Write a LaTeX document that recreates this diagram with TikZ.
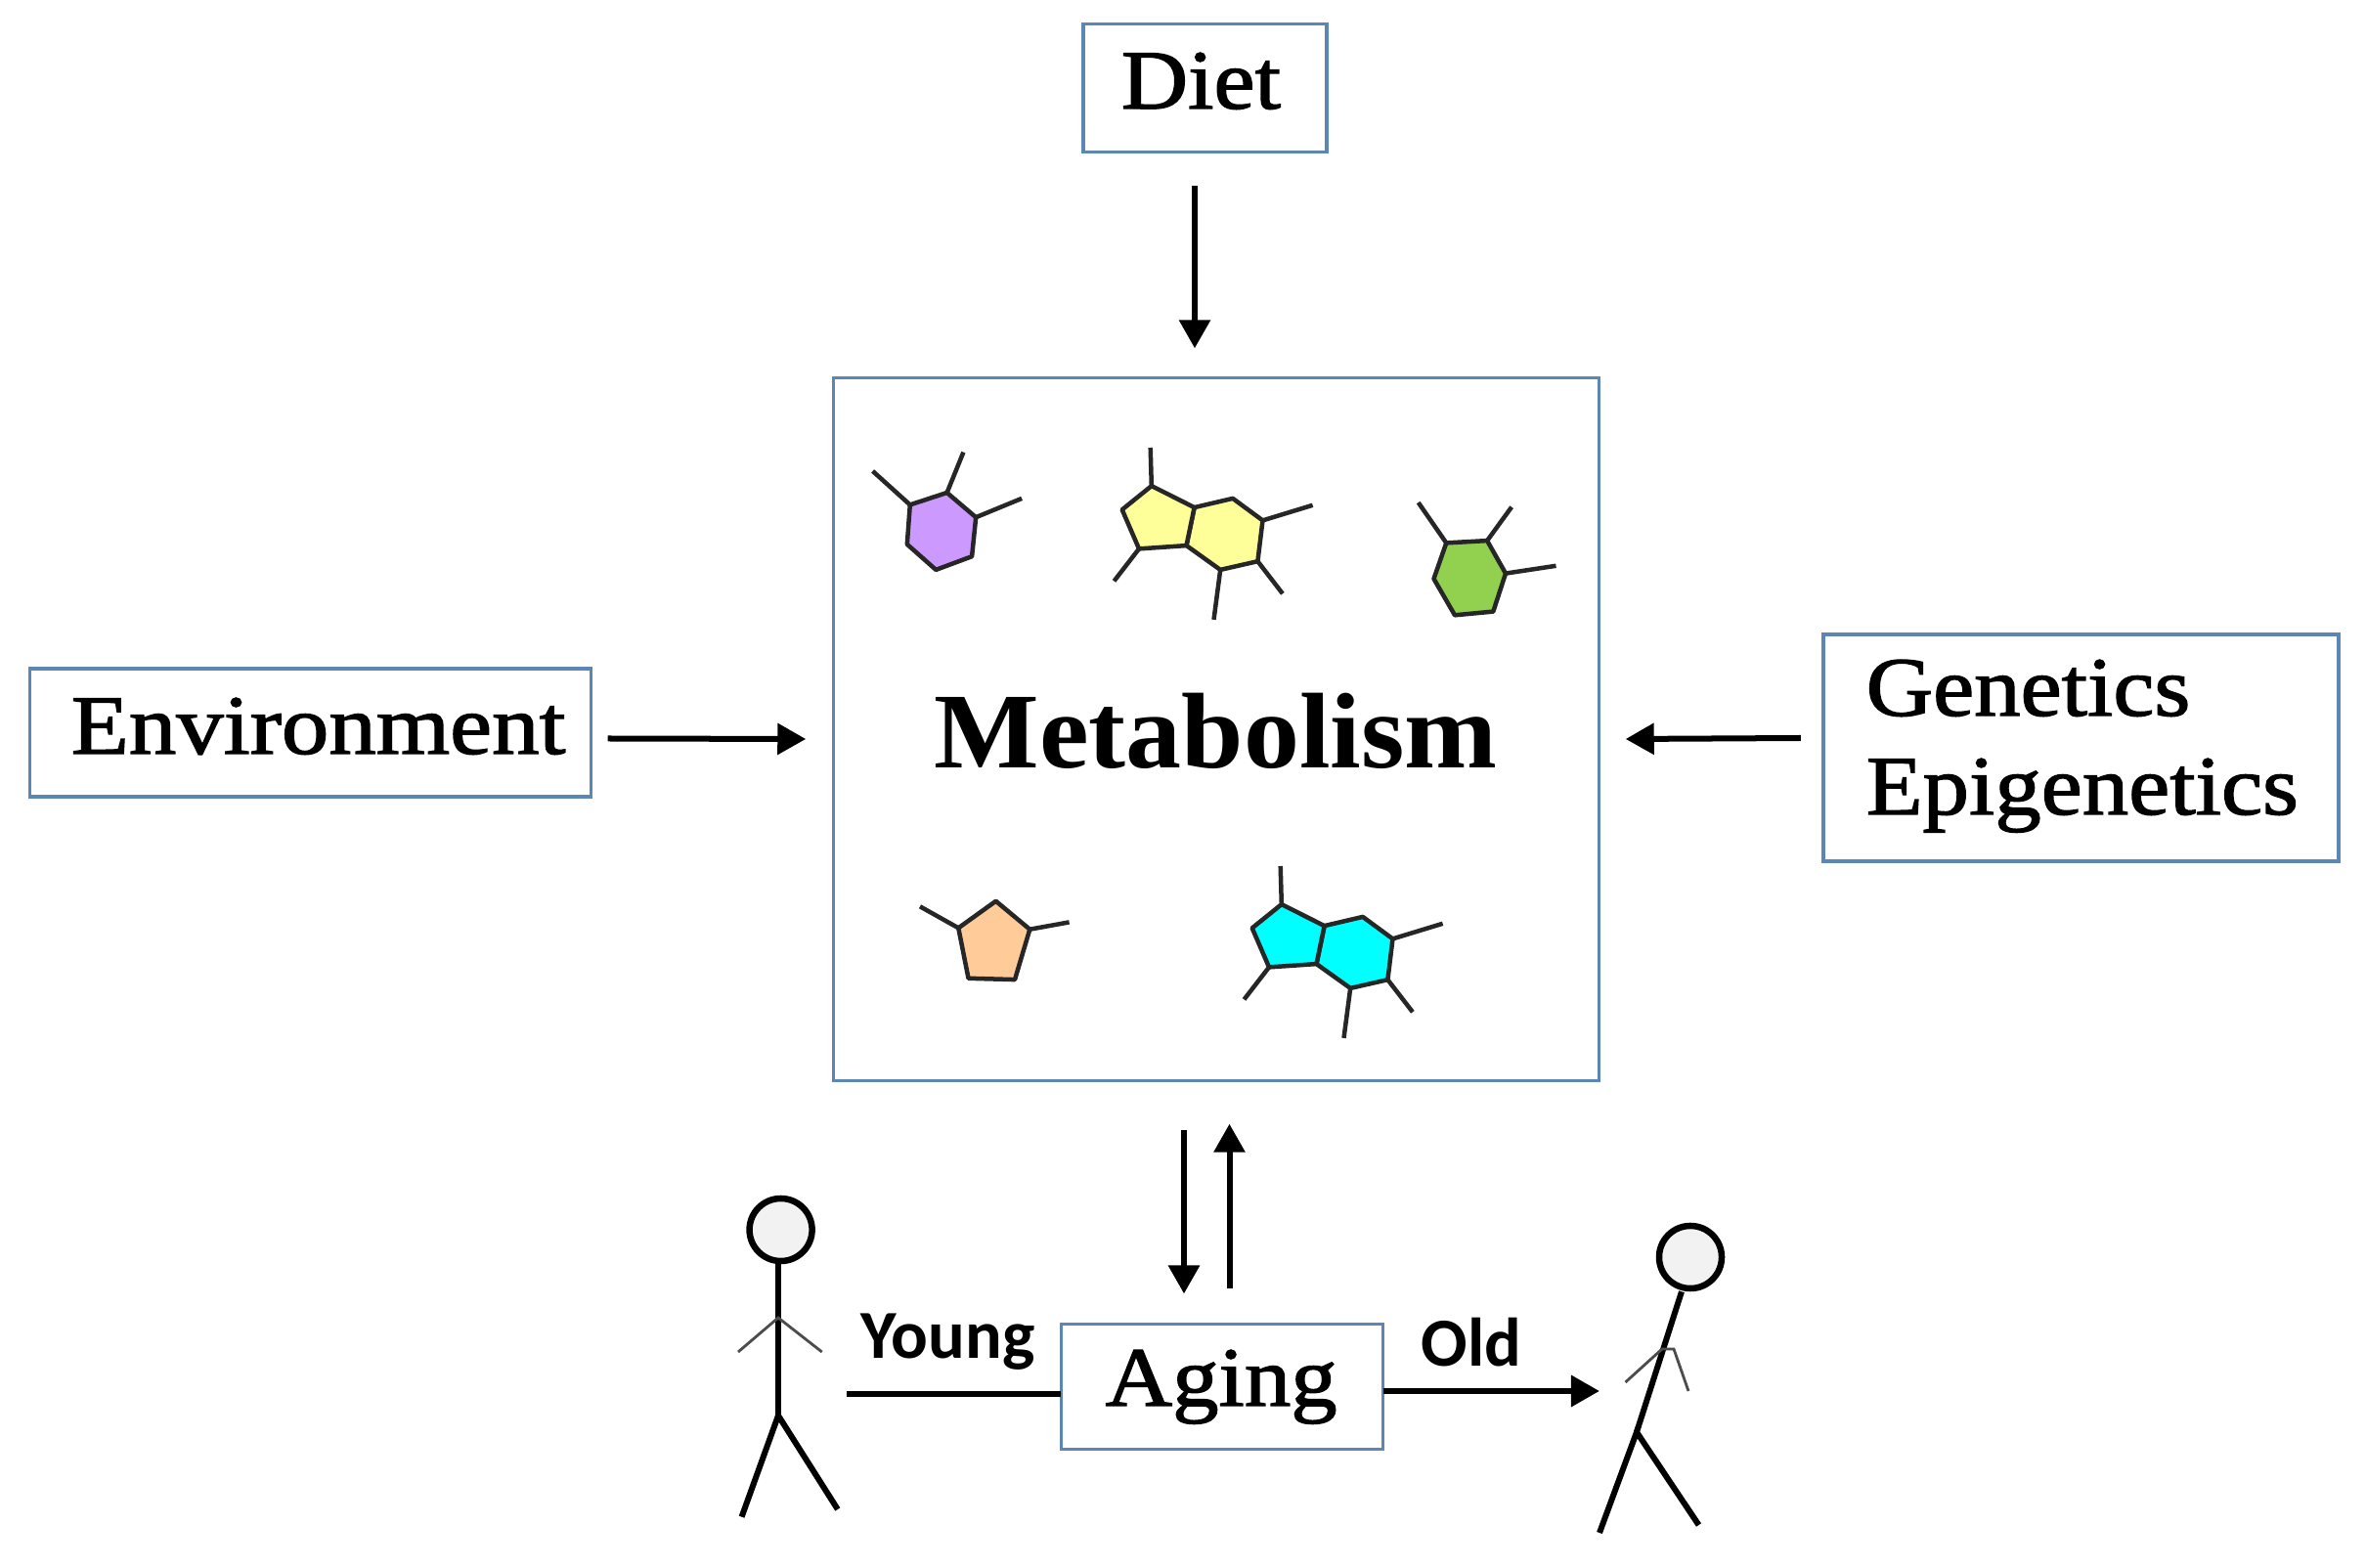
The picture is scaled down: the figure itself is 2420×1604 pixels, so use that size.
\documentclass[tikz,border=0pt]{standalone}
\usepackage{fontspec}
\usetikzlibrary{arrows.meta,shapes.geometric}
\newfontfamily\boxfont[FakeStretch=1.10,FakeBold=1.6]{Liberation Serif}
\newfontfamily\metafont[FakeStretch=1.035]{Liberation Serif}
\newfontfamily\labfont{Carlito}
\definecolor{boxline}{HTML}{5B86B5}
\definecolor{molP}{HTML}{CC99FF}
\definecolor{molY}{HTML}{FFFF99}
\definecolor{molG}{HTML}{92D050}
\definecolor{molO}{HTML}{FFCC99}
\definecolor{molC}{HTML}{00FFFF}
\definecolor{headfill}{HTML}{F2F2F2}
\tikzset{
  boxn/.style={draw=boxline,line width=0.035cm,fill=white,inner sep=0pt,outer sep=0pt},
  boxtext/.style={inner sep=0pt,anchor=base west,font=\boxfont\fontsize{24.5}{28}\selectfont},
  metatext/.style={inner sep=0pt,anchor=base west,font=\metafont\bfseries\fontsize{31.3}{36}\selectfont},
  labtext/.style={inner sep=0pt,anchor=base west,font=\labfont\bfseries\fontsize{20}{22}\selectfont},
  arr/.style={line width=0.06cm,-{Triangle[length=0.29cm,width=0.31cm]}},
  mol/.style={draw=black!85,line width=0.045cm,line join=round},
  sub/.style={draw=black!85,line width=0.045cm},
  head/.style={draw=black,line width=0.065cm,fill=headfill,shape=ellipse,inner sep=0pt},
  limb/.style={draw=black,line width=0.06cm},
  arm/.style={draw=black!70,line width=0.028cm},
  pics/bicyc/.style={code={
    \draw[mol,fill=#1] (1221.6,519.1)--(1260.9,509.9)--(1291.5,532.4)--(1286.4,574.2)--(1248.2,582.9)--(1213.5,558.1)--cycle;
    \draw[mol,fill=#1] (1177.8,497.1)--(1221.6,519.1)--(1213.5,558.1)--(1165,561.4)--(1147.7,521.4)--cycle;
    \draw[sub] (1177.8,497.1)--(1176.7,458);
    \draw[sub] (1291.5,532.4)--(1342.6,516.8);
    \draw[sub] (1286.4,574.2)--(1311.9,607.3);
    \draw[sub] (1248.2,582.9)--(1241.5,633.9);
    \draw[sub] (1165,561.4)--(1139.5,594.4);
  }}
}
\begin{document}
\begin{tikzpicture}[x=0.01cm,y=-0.01cm]
\useasboundingbox (0,0) rectangle (2420,1604);
\fill[white] (0,0) rectangle (2420,1604);

% boxes
\node[boxn,minimum width=2.49cm,minimum height=1.31cm] (diet) at (1232.5,90) {};
\node[boxn,minimum width=7.83cm,minimum height=7.19cm] (metab) at (1244,746) {};
\node[boxn,minimum width=5.74cm,minimum height=1.31cm] (env) at (317.5,749.5) {};
\node[boxn,minimum width=5.27cm,minimum height=2.32cm] (gen) at (2128.5,765) {};
\node[boxn,minimum width=3.29cm,minimum height=1.28cm] (aging) at (1250,1418.5) {};

% box texts
\node[boxtext] (dietT) at (1146,111) {Diet};
\node[boxtext] (envT) at (72,771) {\scalebox{1.022}[1]{Environment}};
\node[boxtext] (genT) at (1908,732) {Genetics};
\node[boxtext] (epiT) at (1908,833) {Epigenetics};
\node[boxtext] (agingT) at (1130,1438) {Aging};
\node[metatext] (metaT) at (955,786) {Metabolism};
\node[labtext] (young) at (880,1390) {Young};
\node[labtext] (old) at (1453,1398) {Old};

% arrows
\draw[arr] ([shift={(-10.5,34)}]diet.south) -- ([shift={(-22,-30)}]metab.north);
\draw[arr] ([shift={(17,6)}]env.east) -- ([shift={(-28,10)}]metab.west);
\draw[arr] ([shift={(-23,-10)}]gen.west) -- ([shift={(27,10)}]metab.east);
\draw[arr] ([shift={(-33,50)}]metab.south) -- ([shift={(-39,-31)}]aging.north);
\draw[arr] ([shift={(7.5,-36)}]aging.north) -- ([shift={(13.5,44)}]metab.south);

% molecules
\draw[mol,fill=molP] (930.8,516.4)--(968.6,504)--(998.2,529.2)--(994.1,569.2)--(957.3,582.9)--(927.8,556.8)--cycle;
\draw[sub] (930.8,516.4)--(892.6,481.9);
\draw[sub] (968.6,504)--(985.4,462.6);
\draw[sub] (998.2,529.2)--(1045.1,509.9);

\pic at (0,0) {bicyc=molY};
\pic at (133,428) {bicyc=molC};

\draw[mol,fill=molG] (1479.3,555.4)--(1521.1,553.1)--(1540,586.6)--(1527.3,625.6)--(1488,629.3)--(1466.5,592.1)--cycle;
\draw[sub] (1479.3,555.4)--(1450.7,514.1);
\draw[sub] (1521.1,553.1)--(1546.1,518.7);
\draw[sub] (1540,586.6)--(1591.5,578.8);

\draw[mol,fill=molO] (1018.6,921.8)--(1053.3,950.7)--(1038,1002.1)--(990.5,1000.8)--(980.3,949.3)--cycle;
\draw[sub] (980.3,949.3)--(941,927.3);
\draw[sub] (1053.3,950.7)--(1093.6,943.4);

% young person
\node[head,minimum width=0.64cm,minimum height=0.64cm] (headL) at (798.6,1258) {};
\coordinate (hipL) at (796,1448);
\coordinate (chestL) at (796,1348);
\draw[limb] (headL.south -| hipL) -- (hipL);
\draw[limb] (758.6,1551.7) -- (hipL) -- (856.8,1544);
\draw[arm] (755,1383) -- (chestL) -- (840.7,1383);

% old person
\node[head,minimum width=0.64cm,minimum height=0.64cm] (headR) at (1729,1286) {};
\coordinate (hipR) at (1674,1465);
\coordinate (chestR) at (1700,1380);
\draw[limb] ([xshift=-0.09cm]headR.south) -- (hipR);
\draw[limb] (1636,1568) -- (hipR) -- (1737.5,1560);
\draw[arm] (1662.5,1414) -- (chestR) -- (1712,1380) -- (1727,1423);

% aging links
\coordinate (youngEnd) at (866,1426);
\coordinate (oldEnd) at (1636,1423);
\draw[line width=0.065cm] (youngEnd) -- (aging.west |- youngEnd);
\draw[line width=0.065cm,-{Triangle[length=0.29cm,width=0.31cm]}] (aging.east |- oldEnd) -- (oldEnd);
\end{tikzpicture}
\end{document}
